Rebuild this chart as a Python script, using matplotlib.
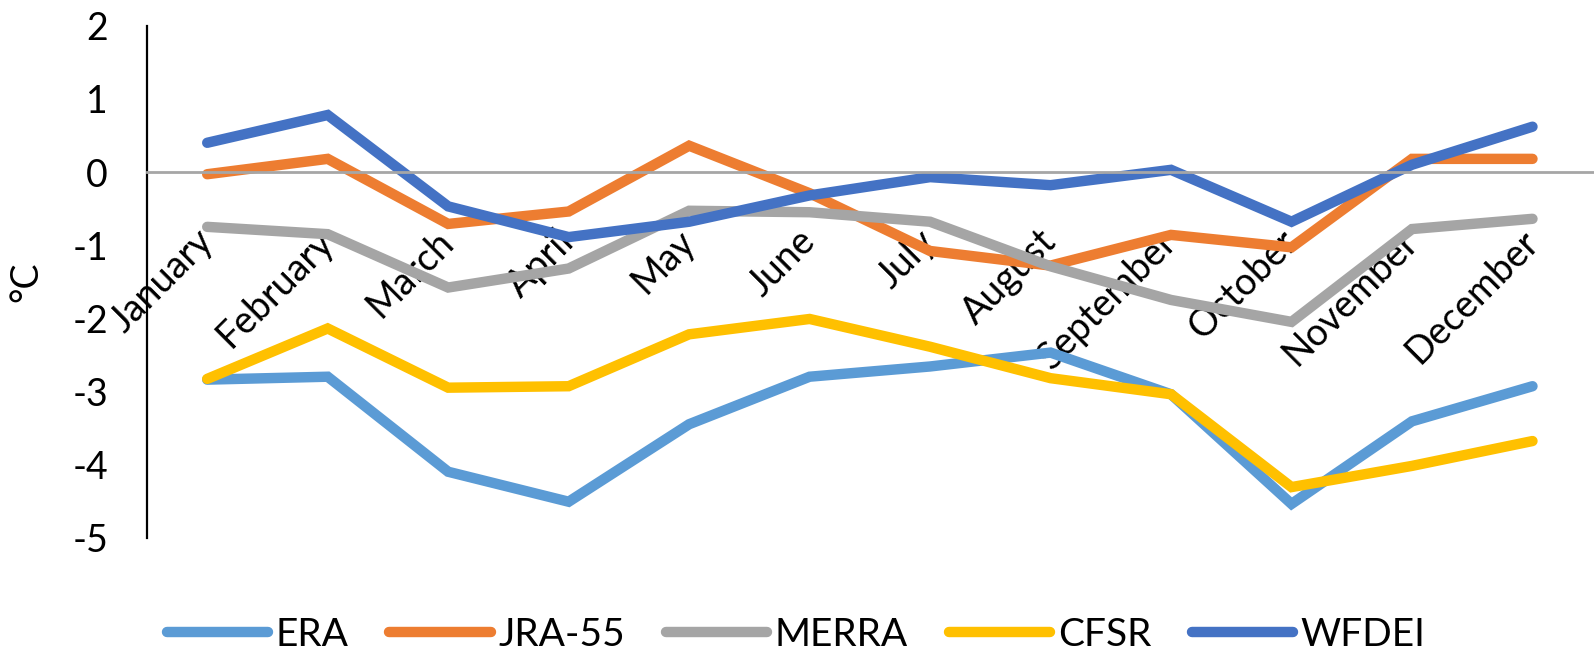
import numpy as np
import matplotlib
matplotlib.use('Agg')
import matplotlib.pyplot as plt

plt.rcParams['font.family'] = ['Lato', 'DejaVu Sans']

# 月份和各再分析数据集的温度偏差 (°C)
months = ['January', 'February', 'March', 'April', 'May', 'June',
          'July', 'August', 'September', 'October', 'November', 'December']
era = [-2.84, -2.80, -4.10, -4.51, -3.45, -2.80, -2.66, -2.47, -3.04, -4.54, -3.41, -2.93]
jra55 = [-0.03, 0.18, -0.71, -0.54, 0.36, -0.29, -1.08, -1.28, -0.86, -1.03, 0.18, 0.18]
merra = [-0.75, -0.85, -1.58, -1.32, -0.53, -0.55, -0.68, -1.29, -1.75, -2.05, -0.78, -0.64]
cfsr = [-2.83, -2.14, -2.95, -2.93, -2.22, -2.01, -2.39, -2.82, -3.04, -4.31, -4.02, -3.68]
wfdei = [0.40, 0.78, -0.47, -0.89, -0.68, -0.32, -0.07, -0.18, 0.03, -0.68, 0.10, 0.62]

series = [('ERA', era, '#5B9BD5'), ('JRA-55', jra55, '#ED7D31'),
          ('MERRA', merra, '#A5A5A5'), ('CFSR', cfsr, '#FFC000'),
          ('WFDEI', wfdei, '#4472C4')]

fig = plt.figure(figsize=(15.94, 6.62), dpi=100)
ax = fig.add_axes([0.0922, 0.188, 0.907, 0.773])

x = np.arange(len(months))
for name, vals, col in series:
    ax.plot(x, vals, color=col, linewidth=7.5, label=name,
            solid_capstyle='round', solid_joinstyle='miter')

ax.set_xlim(-0.5, 11.5)
ax.set_ylim(-5, 2)
ax.set_yticks(range(-5, 3))
ax.set_yticklabels([str(v) for v in range(-5, 3)])

# 横轴放在 0 处
ax.spines['bottom'].set_position(('data', 0))
ax.spines['bottom'].set_color('#A6A6A6')
ax.spines['bottom'].set_linewidth(2)
ax.spines['left'].set_linewidth(1.6)
ax.spines['top'].set_visible(False)
ax.spines['right'].set_visible(False)

ax.set_xticks(x)
ax.set_xticklabels(months, rotation=45, ha='right', va='center',
                   rotation_mode='anchor', fontsize=27)
ax.tick_params(axis='x', length=0, pad=46)
ax.tick_params(axis='y', length=0, pad=28, labelsize=27)

ax.set_ylabel('°C', fontsize=27, labelpad=20)

fig.legend(loc='center', bbox_to_anchor=(0.4995, 0.041), ncol=5, frameon=False,
           fontsize=28, handlelength=2.6, handletextpad=0.2, columnspacing=1.05)

fig.savefig('out.png', dpi=100)
